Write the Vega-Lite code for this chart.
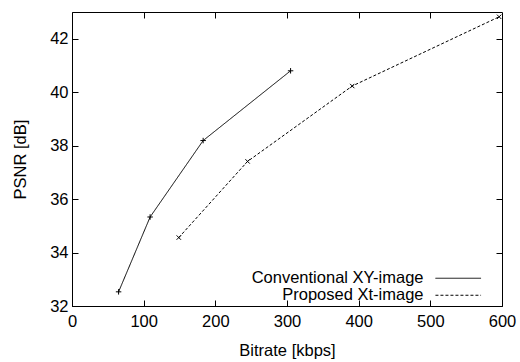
{
  "$schema": "https://vega.github.io/schema/vega-lite/v6.json",
  "width": 430,
  "height": 294,
  "autosize": "none",
  "padding": {"left": 72, "top": 12, "right": 18, "bottom": 56},
  "background": "white",
  "config": {
    "font": "Liberation Sans",
    "view": {"stroke": "black", "strokeWidth": 1},
    "axis": {
      "grid": false,
      "domainColor": "black",
      "tickColor": "black",
      "tickSize": -6,
      "labelFlush": false,
      "labelColor": "black",
      "labelFont": "Liberation Sans",
      "labelFontSize": 16.5,
      "titleFont": "Liberation Sans",
      "titleFontSize": 16.5,
      "titleFontWeight": "normal",
      "titleColor": "black"
    },
    "legend": {
      "labelFont": "Liberation Sans",
      "labelFontSize": 16.5,
      "labelColor": "black"
    }
  },
  "data": {
    "values": [
      {"series": "Conventional XY-image", "bitrate": 65, "psnr": 32.53},
      {"series": "Conventional XY-image", "bitrate": 109, "psnr": 35.33},
      {"series": "Conventional XY-image", "bitrate": 183, "psnr": 38.19},
      {"series": "Conventional XY-image", "bitrate": 305, "psnr": 40.8},
      {"series": "Proposed Xt-image", "bitrate": 149, "psnr": 34.56},
      {"series": "Proposed Xt-image", "bitrate": 245, "psnr": 37.41},
      {"series": "Proposed Xt-image", "bitrate": 391, "psnr": 40.23},
      {"series": "Proposed Xt-image", "bitrate": 596, "psnr": 42.82}
    ]
  },
  "layer": [
    {
      "mark": {"type": "line", "color": "black", "strokeWidth": 1},
      "encoding": {
        "x": {
          "field": "bitrate", "type": "quantitative",
          "scale": {"domain": [0, 600], "nice": false, "zero": false},
          "axis": {"orient": "bottom", "values": [0, 100, 200, 300, 400, 500, 600], "title": "Bitrate [kbps]", "labelPadding": 13, "titlePadding": 13}
        },
        "y": {
          "field": "psnr", "type": "quantitative",
          "scale": {"domain": [32, 43], "nice": false, "zero": false},
          "axis": {"orient": "left", "values": [32, 34, 36, 38, 40, 42], "title": "PSNR [dB]", "labelPadding": 10, "titlePadding": 21}
        },
        "strokeDash": {
          "field": "series", "type": "nominal",
          "scale": {"domain": ["Conventional XY-image", "Proposed Xt-image"], "range": [[1, 0], [3, 2]]},
          "legend": {
            "title": null,
            "orient": "none",
            "legendX": 378,
            "legendY": 258,
            "symbolType": "M-4,0L4,0",
            "symbolStrokeColor": "black",
            "symbolStrokeWidth": 1,
            "symbolSize": 130,
            "labelAlign": "right",
            "labelOffset": -43,
            "labelLimit": 400,
            "rowPadding": 0,
            "padding": 0
          }
        }
      }
    },
    {
      "transform": [{"filter": "datum.series === 'Conventional XY-image'"}],
      "mark": {"type": "point", "shape": "M-1,0L1,0M0,-1L0,1", "filled": false, "stroke": "black", "strokeWidth": 1, "size": 30, "opacity": 1},
      "encoding": {
        "x": {"field": "bitrate", "type": "quantitative", "axis": null},
        "y": {"field": "psnr", "type": "quantitative", "axis": null}
      }
    },
    {
      "transform": [{"filter": "datum.series === 'Proposed Xt-image'"}],
      "mark": {"type": "point", "shape": "M-0.8,-0.8L0.8,0.8M-0.8,0.8L0.8,-0.8", "filled": false, "stroke": "black", "strokeWidth": 1, "size": 30, "opacity": 1},
      "encoding": {
        "x": {"field": "bitrate", "type": "quantitative", "axis": null},
        "y": {"field": "psnr", "type": "quantitative", "axis": null}
      }
    },
    {
      "mark": {"type": "point", "opacity": 0},
      "encoding": {
        "x": {"field": "bitrate", "type": "quantitative", "axis": {"orient": "top", "values": [100, 200, 300, 400, 500], "labels": false, "title": null, "domain": false}},
        "y": {"field": "psnr", "type": "quantitative", "axis": {"orient": "right", "values": [34, 36, 38, 40, 42], "labels": false, "title": null, "domain": false}}
      }
    }
  ],
  "resolve": {"axis": {"x": "independent", "y": "independent"}}
}
